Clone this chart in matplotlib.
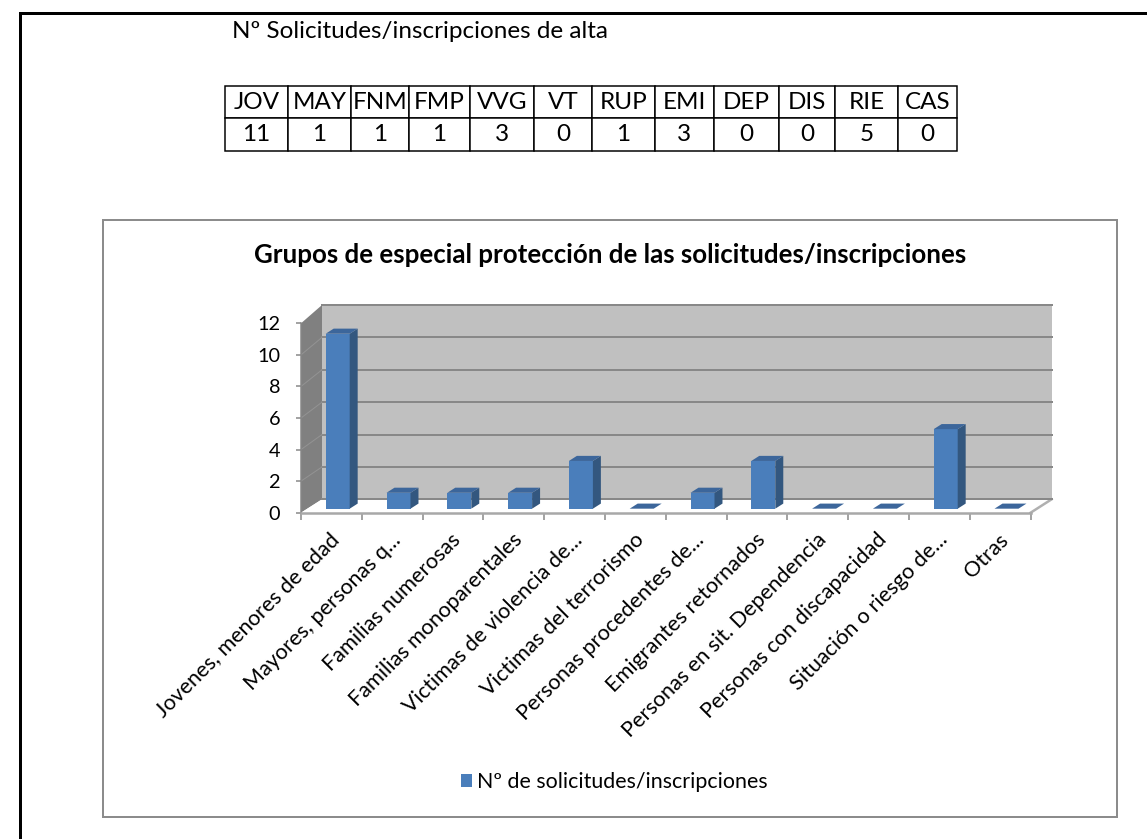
import matplotlib
matplotlib.use('Agg')
import matplotlib.pyplot as plt
import matplotlib.transforms as mtransforms
from matplotlib.patches import Polygon, Rectangle, Patch

plt.rcParams['font.family'] = ['Lato', 'DejaVu Sans']

# ---------------- data ----------------
header_text = 'Nº Solicitudes/inscripciones de alta'
table_codes = ['JOV', 'MAY', 'FNM', 'FMP', 'VVG', 'VT', 'RUP', 'EMI', 'DEP', 'DIS', 'RIE', 'CAS']
table_counts = [11, 1, 1, 1, 3, 0, 1, 3, 0, 0, 5, 0]
chart_title = 'Grupos de especial protección de las solicitudes/inscripciones'
categories = ['Jovenes, menores de edad', 'Mayores, personas q...', 'Familias numerosas',
              'Familias monoparentales', 'Victimas de violencia de...', 'Victimas del terrorismo',
              'Personas procedentes de...', 'Emigrantes retornados', 'Personas en sit. Dependencia',
              'Personas con discapacidad', 'Situación o riesgo de...', 'Otras']
values = [11, 1, 1, 1, 3, 0, 1, 3, 0, 0, 5, 0]
y_ticks = [0, 2, 4, 6, 8, 10, 12]
series_name = 'Nº de solicitudes/inscripciones'

# ---------------- figure ----------------
W, H, DPI = 1147, 839, 100
fig = plt.figure(figsize=(W / DPI, H / DPI), dpi=DPI)
fig.patch.set_facecolor('white')


def fbox(x0, y0, x1, y1):
    return [x0 / W, 1 - y1 / H, (x1 - x0) / W, (y1 - y0) / H]


def pt(p):
    return p * 72 / DPI


fig.canvas.draw()
R = fig.canvas.get_renderer()


def fit_size(s, target, weight='normal'):
    t = fig.text(0, 0, s, fontsize=20, fontweight=weight)
    w = t.get_window_extent(R).width
    t.remove()
    return 20 * target / w


# page layer
page = fig.add_axes([0, 0, 1, 1])
page.set_xlim(0, W)
page.set_ylim(H, 0)
page.axis('off')
page.plot([20, 20, W + 10], [H + 10, 13, 13], color='black', lw=pt(3),
          solid_capstyle='butt', solid_joinstyle='miter')
page.add_patch(Rectangle((103, 220), 1014, 597, fill=False, ec='#8c8c8c', lw=pt(2)))

header_fs = fit_size(header_text, 377)
page.text(232, 32, header_text, fontsize=header_fs, va='center', ha='left')

# ---------------- table ----------------
col_edges = [225, 288, 351, 409, 470, 534, 592, 655, 714, 779, 835, 898, 957]
tax = fig.add_axes(fbox(col_edges[0], 86, col_edges[-1], 150.7))
tax.axis('off')
span = col_edges[-1] - col_edges[0]
widths = [(b - a) / span for a, b in zip(col_edges[:-1], col_edges[1:])]
tbl = tax.table(cellText=[[str(v) for v in table_counts]], colLabels=table_codes,
                colWidths=widths, cellLoc='center', bbox=[0, 0, 1, 1])
tbl.auto_set_font_size(False)
tbl.set_fontsize(header_fs)
for cell in tbl.get_celld().values():
    cell.set_linewidth(pt(1.5))
    cell.set_edgecolor('black')
    cell.PAD = 0.02

# ---------------- 3D-look bar chart ----------------
AX0, AY0, AX1, AY1 = 301, 323.3, 1030.6, 512.7
ax = fig.add_axes(fbox(AX0, AY0, AX1, AY1))
n = len(categories)
ymax = y_ticks[-1]
ax.set_xlim(0, n)
ax.set_ylim(0, ymax)
ax.patch.set_visible(False)
ux = (AX1 - AX0) / n
uy = (AY1 - AY0) / ymax
DX = 21.0 / ux
DY = 13.4 / uy
K = ((AY1 - 305) / uy - DY) / ymax


def back(v):
    return DY + K * v


wall_c = '#c0c0c0'
side_wall_c = '#808080'
grid_c = '#888888'
# back wall
ax.add_patch(Polygon([(DX, back(0)), (n + DX, back(0)), (n + DX, back(ymax)), (DX, back(ymax))],
                     closed=True, fc=wall_c, ec='none', zorder=0.3, clip_on=False))
# left wall
ax.add_patch(Polygon([(0, 0), (DX, back(0)), (DX, back(ymax)), (0, ymax)],
                     closed=True, fc=side_wall_c, ec='none', zorder=0.3, clip_on=False))
# floor
ax.add_patch(Polygon([(0, 0), (n, 0), (n + DX, back(0)), (DX, back(0))],
                     closed=True, fc='white', ec='none', zorder=0.35, clip_on=False))
ax.plot([n, n + DX], [0, back(0)], color='#b0b0b0', lw=pt(2.5), zorder=0.5, clip_on=False)
# gridlines
for v in y_ticks:
    ax.plot([DX, n + DX], [back(v), back(v)], color=grid_c, lw=pt(2), zorder=0.6, clip_on=False)
    if 0 < v < ymax:
        ax.plot([0, DX], [v, back(v)], color='#939393', lw=pt(1), zorder=0.6, clip_on=False)

# bars
front_c = '#4a7ebb'
side_c = '#33577f'
top_c = '#3c669b'
bw = 24.0 / ux
f0, f1 = 0.30, 0.68
for i, v in enumerate(values):
    x0 = i + 0.5 - bw / 2 + f0 * DX
    y0 = f0 * DY
    h = v * (1 + f0 * (K - 1))
    ddx = (f1 - f0) * DX
    ddy = (f1 - f0) * DY
    if v > 0:
        ax.add_patch(Rectangle((x0, y0), bw, h, fc=front_c, ec='none', zorder=3, clip_on=False))
        ax.add_patch(Polygon([(x0 + bw, y0), (x0 + bw + ddx, y0 + ddy),
                              (x0 + bw + ddx, y0 + ddy + h), (x0 + bw, y0 + h)],
                             closed=True, fc=side_c, ec='none', zorder=3, clip_on=False))
    ax.add_patch(Polygon([(x0, y0 + h), (x0 + bw, y0 + h), (x0 + bw + ddx, y0 + h + ddy),
                          (x0 + ddx, y0 + h + ddy)],
                         closed=True, fc=top_c, ec='none', zorder=3, clip_on=False))

# axes / ticks
for s in ['top', 'right']:
    ax.spines[s].set_visible(False)
ax.spines['left'].set_color('#868686')
ax.spines['left'].set_linewidth(pt(1.5))
ax.spines['bottom'].set_color('#a8a8a8')
ax.spines['bottom'].set_linewidth(pt(2.5))
ax.set_yticks(y_ticks)
tick_fs = fit_size('12', 23)
ax.tick_params(axis='y', direction='out', length=pt(5), width=pt(1.5), color='#868686',
               pad=pt(16), labelsize=tick_fs, labelcolor='black')
ax.set_xticks(range(n + 1))
ax.set_xticklabels([])
ax.tick_params(axis='x', direction='out', length=pt(7), width=pt(1.5), color='#868686')

cat_fs = fit_size(categories[0], 252)
lab_tr = mtransforms.offset_copy(ax.transData, fig=fig, x=-2, y=-17, units='dots')
for i, lab in enumerate(categories):
    ax.text(i + 0.5, 0, lab, transform=lab_tr, rotation=45, rotation_mode='anchor',
            ha='right', va='top', fontsize=cat_fs, clip_on=False)

# title
title_fs = fit_size(chart_title, 712, weight='bold')
fig.text(610 / W, 1 - 255 / H, chart_title, fontsize=title_fs, fontweight='bold',
         ha='center', va='center')

# legend
leg_fs = fit_size(series_name, 290)
hs = pt(11) / leg_fs
fig.legend(handles=[Patch(facecolor=front_c, edgecolor='none', label=series_name)],
           loc='center left', bbox_to_anchor=(461 / W, 1 - 782 / H), frameon=False,
           fontsize=leg_fs, handlelength=hs, handleheight=hs, handletextpad=pt(5) / leg_fs,
           borderpad=0, borderaxespad=0)

fig.savefig('out.png', dpi=DPI, facecolor='white')
